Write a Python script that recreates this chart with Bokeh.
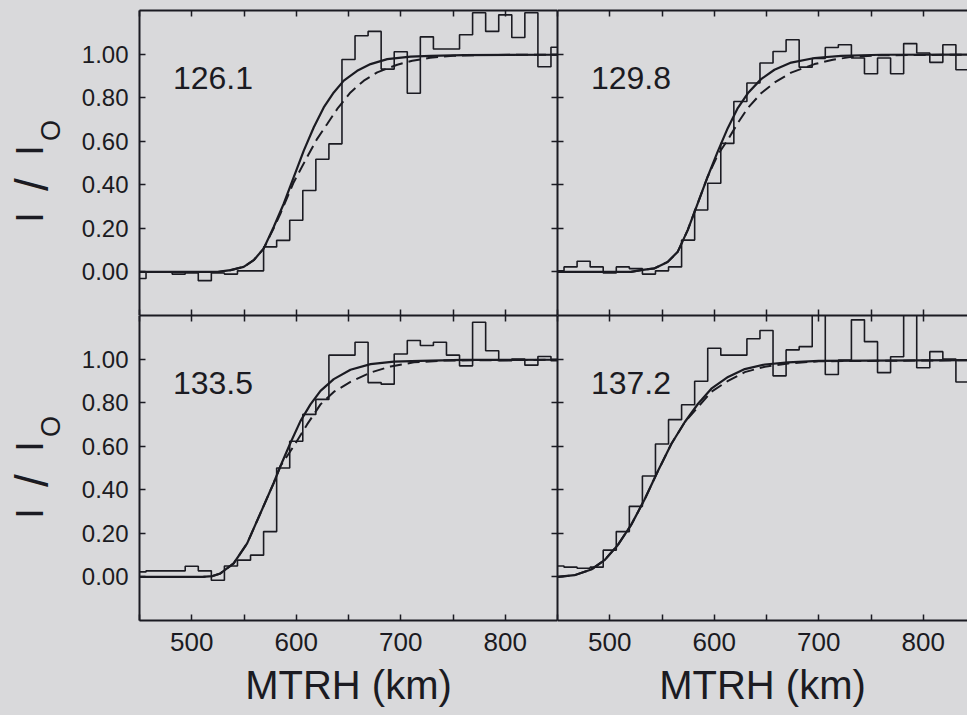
import math
from bokeh.plotting import figure
from bokeh.layouts import gridplot
from bokeh.models import Range1d, LinearAxis, FixedTicker, NumeralTickFormatter, Label
from bokeh.embed import file_html
from bokeh.resources import INLINE

# ---------------- data ----------------
bin_km = [450, 462.5, 475, 487.5, 500, 512.5, 525, 537.5, 550, 562.5, 575, 587.5,
          600, 612.5, 625, 637.5, 650, 662.5, 675, 687.5, 700, 712.5, 725, 737.5,
          750, 762.5, 775, 787.5, 800, 812.5, 825, 837.5, 850]

hist_1261 = [-0.03, 0.0, 0.0, -0.01, -0.005, -0.04, -0.005, -0.01, 0.005, 0.005,
             0.115, 0.145, 0.237, 0.374, 0.517, 0.588, 0.975, 1.084, 1.104, 0.931,
             1.011, 0.82, 1.079, 1.023, 1.023, 1.089, 1.19, 1.104, 1.18, 1.076,
             1.19, 0.942, 1.031]
hist_1298 = [0.005, 0.023, 0.049, 0.023, -0.005, 0.023, 0.015, -0.01, 0.005, 0.023,
             0.146, 0.284, 0.407, 0.59, 0.782, 0.867, 0.959, 1.012, 1.066, 0.94,
             0.98, 1.03, 1.043, 0.982, 0.91, 0.982, 0.91, 1.048, 1.005, 0.962,
             1.043, 0.928, 0.997]
hist_1335 = [0.023, 0.028, 0.028, 0.028, 0.049, 0.028, -0.015, 0.05, 0.077, 0.1,
             0.208, 0.5, 0.623, 0.746, 0.815, 1.018, 1.018, 1.077, 0.892, 0.885,
             1.023, 1.085, 1.062, 1.077, 1.018, 0.969, 1.169, 1.038, 0.992, 1.0,
             0.972, 1.012, 0.992]
hist_1372 = [0.05, 0.045, 0.04, 0.045, 0.123, 0.208, 0.324, 0.463, 0.61, 0.722,
             0.79, 0.898, 1.05, 1.018, 1.018, 1.093, 1.131, 0.923, 1.042, 1.057,
             1.25, 0.929, 0.995, 1.18, 1.08, 0.938, 1.011, 1.25, 0.96, 1.034,
             1.0, 0.895, 0.833]

solid_1261_km = [450, 525, 537, 549.7, 559.3, 568.8, 578.4, 588, 597.6, 607.2, 616.8,
                 626.3, 635.9, 645.5, 658.3, 671.1, 687.1, 709.4, 728.6, 760, 850]
solid_1261_v = [0.0, 0.0, 0.008, 0.023, 0.054, 0.107, 0.206, 0.313, 0.435, 0.557, 0.664,
                0.755, 0.824, 0.878, 0.923, 0.954, 0.977, 0.988, 0.992, 0.995, 0.997]
dash_1261_km = [450, 525, 537, 549.7, 559.3, 568.8, 578.4, 584.8, 597.6, 610.4, 620,
                629.6, 639.2, 651.9, 664.7, 677.5, 696.7, 711, 728, 750, 780, 850]
dash_1261_v = [0.0, 0.0, 0.008, 0.023, 0.054, 0.107, 0.2, 0.267, 0.412, 0.527, 0.611,
               0.679, 0.748, 0.824, 0.878, 0.916, 0.951, 0.969, 0.983, 0.992, 0.996, 0.997]

solid_1298_km = [450, 520, 529.8, 542.6, 555.4, 565, 574.6, 584.2, 593.7, 603.3, 612.9,
                 622.5, 632.1, 644.8, 657.6, 673.6, 696, 721.5, 760, 850]
solid_1298_v = [0.0, 0.0, 0.008, 0.016, 0.046, 0.092, 0.192, 0.315, 0.437, 0.552, 0.66,
                0.752, 0.82, 0.885, 0.928, 0.961, 0.982, 0.992, 0.997, 0.998]
dash_1298_km = [450, 520, 529.8, 542.6, 555.4, 565, 574.6, 584.2, 593.7, 603.3, 612.9,
                622.5, 632.1, 644.8, 657.6, 673.6, 696, 713.5, 730, 755, 850]
dash_1298_v = [0.0, 0.0, 0.008, 0.016, 0.046, 0.092, 0.192, 0.315, 0.437, 0.537, 0.606,
               0.683, 0.752, 0.82, 0.869, 0.915, 0.954, 0.974, 0.986, 0.994, 0.998]

solid_1335_km = [450, 510, 520, 527.4, 540.1, 553, 565.7, 578.4, 584.8, 594.4, 604,
                 613.6, 623.2, 635.9, 651.9, 671.1, 693.4, 719, 760, 850]
solid_1335_v = [0.0, 0.0, 0.004, 0.016, 0.062, 0.154, 0.292, 0.431, 0.508, 0.615, 0.715,
                0.792, 0.854, 0.908, 0.951, 0.977, 0.988, 0.992, 0.996, 0.997]
dash_1335_km = [450, 510, 520, 527.4, 540.1, 553, 565.7, 578.4, 584.8, 597.6, 610.4,
                623.2, 635.9, 651.9, 671.1, 690.3, 712.6, 740, 850]
dash_1335_v = [0.0, 0.0, 0.004, 0.016, 0.062, 0.154, 0.292, 0.431, 0.508, 0.6, 0.7,
               0.792, 0.849, 0.895, 0.938, 0.966, 0.985, 0.993, 0.997]

solid_1372_km = [450, 466.3, 482.3, 495, 507.8, 520.5, 533.3, 546.1, 558.9, 571.7,
                 584.5, 597.2, 613.2, 629.2, 648.4, 670.7, 700, 850]
solid_1372_v = [0.0, 0.008, 0.034, 0.077, 0.147, 0.239, 0.355, 0.486, 0.61, 0.71,
                0.795, 0.864, 0.918, 0.954, 0.975, 0.985, 0.992, 0.995]
dash_1372_km = [450, 466.3, 482.3, 495, 507.8, 520.5, 533.3, 546.1, 558.9, 571.7,
                584.5, 597.2, 613.2, 629.2, 648.4, 670.7, 700, 850]
dash_1372_v = [0.0, 0.008, 0.034, 0.077, 0.147, 0.239, 0.355, 0.486, 0.61, 0.71,
               0.78, 0.85, 0.90, 0.94, 0.965, 0.98, 0.99, 0.995]

panel_names = ["126.1", "129.8", "133.5", "137.2"]

x_major = [500, 600, 700, 800]
x_minor = [450, 550, 650, 750, 850]
y_major = [0.0, 0.2, 0.4, 0.6, 0.8, 1.0]
x_title = "MTRH (km)"
y_title_parts = ["I", "/", "I", "O"]

# ---------------- style / layout ----------------
BG = "#d9d9db"
INK = "#1b1b22"
FONT = "Liberation Sans"
FRAME_H = 305
LEFT_W = 418
RIGHT_W = 410
KM_PER_PX = 400.0 / LEFT_W
YLAB_W = 70
TOP_PAD = 10
BOTTOM_PAD = 95


def add_axis(p, side, labels, title=None):
    if side in ("below", "above"):
        ax = LinearAxis(ticker=FixedTicker(ticks=x_major, minor_ticks=x_minor))
    else:
        ax = LinearAxis(ticker=FixedTicker(ticks=y_major, minor_ticks=[]))
        ax.formatter = NumeralTickFormatter(format="0.00")
    ax.axis_line_color = INK
    ax.axis_line_width = 2
    ax.major_tick_in = 6
    ax.major_tick_out = 0
    ax.minor_tick_in = 6
    ax.minor_tick_out = 0
    ax.major_tick_line_color = INK
    ax.major_tick_line_width = 1.5
    ax.minor_tick_line_color = INK
    ax.minor_tick_line_width = 1.5
    ax.major_label_text_font = FONT
    if labels:
        ax.major_label_text_color = INK
        if side in ("below", "above"):
            ax.major_label_text_font_size = "26px"
            ax.major_label_standoff = 12
        else:
            ax.major_label_text_font_size = "24px"
            ax.major_label_standoff = 11
    else:
        ax.major_label_text_color = None
        ax.major_label_text_font_size = "0px"
        ax.major_label_standoff = 0
    if title:
        ax.axis_label = title
        ax.axis_label_text_font = FONT
        ax.axis_label_text_font_size = "40px"
        ax.axis_label_text_font_style = "normal"
        ax.axis_label_text_color = INK
        ax.axis_label_standoff = 9
    p.add_layout(ax, side)


def make_panel(col, row, name, hist, skm, sv, dkm, dv):
    fw = LEFT_W if col == 0 else RIGHT_W
    x_end = 450 + fw * KM_PER_PX
    p = figure(frame_width=fw, frame_height=FRAME_H,
               x_range=Range1d(450, x_end), y_range=Range1d(-0.2, 1.2),
               output_backend="svg", toolbar_location=None,
               x_axis_location=None, y_axis_location=None,
               min_border_left=(139 - YLAB_W) if col == 0 else 0, min_border_right=0,
               min_border_top=TOP_PAD if row == 0 else 0,
               min_border_bottom=BOTTOM_PAD if row == 1 else 0,
               background_fill_color=BG, border_fill_color=BG,
               outline_line_color=None)
    p.grid.visible = False

    add_axis(p, "above", False)
    add_axis(p, "below", row == 1, x_title if row == 1 else None)
    add_axis(p, "left", col == 0)
    if col == 0:
        add_axis(p, "right", False)

    p.step(bin_km, hist, mode="center", line_color=INK, line_width=1.6)
    p.line(skm, sv, line_color=INK, line_width=2.2)
    p.line(dkm, dv, line_color=INK, line_width=2.0, line_dash="12 6")

    p.add_layout(Label(x=482, y=0.888, text=name, text_font=FONT,
                       text_font_size="32px", text_color=INK,
                       text_align="left", text_baseline="alphabetic"))
    return p


def make_ylabel(row):
    h = FRAME_H + (TOP_PAD if row == 0 else BOTTOM_PAD)
    p = figure(frame_width=YLAB_W, frame_height=h,
               x_range=Range1d(0, YLAB_W), y_range=Range1d(h, 0),
               output_backend="svg", toolbar_location=None,
               x_axis_location=None, y_axis_location=None,
               min_border_left=0, min_border_right=0, min_border_top=0, min_border_bottom=0,
               background_fill_color=BG, border_fill_color=BG, outline_line_color=None)
    p.grid.visible = False
    # label pieces: positions in this strip's pixel coordinates
    off = 0 if row == 0 else -9
    spots = [(29.5, 207 + off, "38px"), (31, 174 + off, "46px"),
             (29.5, 140 + off, "38px"), (50, 120 + off, "27px")]
    for txt, (xx, yy, fs) in zip(y_title_parts, spots):
        p.add_layout(Label(x=xx, y=yy, text=txt, angle=math.pi / 2,
                           text_font=FONT, text_font_size=fs, text_color=INK,
                           text_align="center", text_baseline="middle"))
    return p


y1 = make_ylabel(0)
y3 = make_ylabel(1)
p1 = make_panel(0, 0, panel_names[0], hist_1261, solid_1261_km, solid_1261_v, dash_1261_km, dash_1261_v)
p2 = make_panel(1, 0, panel_names[1], hist_1298, solid_1298_km, solid_1298_v, dash_1298_km, dash_1298_v)
p3 = make_panel(0, 1, panel_names[2], hist_1335, solid_1335_km, solid_1335_v, dash_1335_km, dash_1335_v)
p4 = make_panel(1, 1, panel_names[3], hist_1372, solid_1372_km, solid_1372_v, dash_1372_km, dash_1372_v)

grid = gridplot([[y1, p1, p2], [y3, p3, p4]], toolbar_location=None)
try:
    grid.styles = {"background-color": BG}
except Exception:
    pass

open("out.html", "w").write(file_html(grid, INLINE))
